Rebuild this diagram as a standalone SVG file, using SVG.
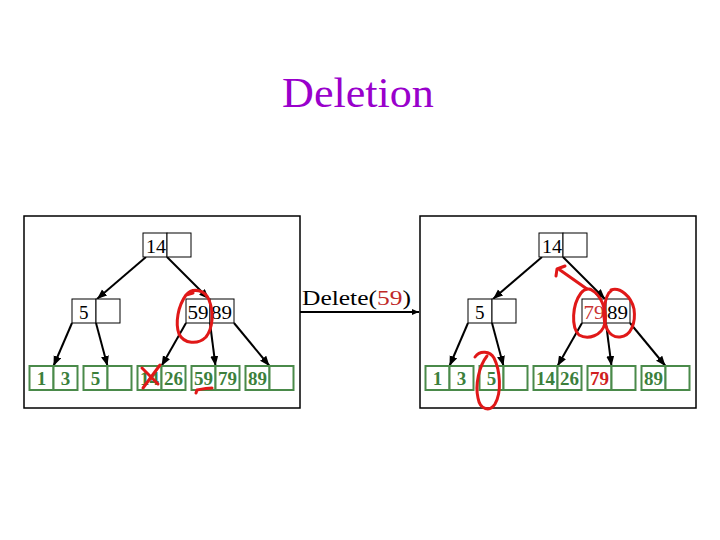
<svg xmlns="http://www.w3.org/2000/svg" width="720" height="540" viewBox="0 0 720 540">
<defs>
<marker id="ah" markerUnits="userSpaceOnUse" markerWidth="12" markerHeight="10" refX="10" refY="4" orient="auto">
<path d="M0,0 L10,4 L0,8 z" fill="#000"/>
</marker>
<marker id="ahs" markerUnits="userSpaceOnUse" markerWidth="8" markerHeight="8" refX="7" refY="3" orient="auto">
<path d="M0,0 L7,3 L0,6 z" fill="#000"/>
</marker>
<style>
.frame{fill:#fff;stroke:#000;stroke-width:1.5}
.nb{fill:#fff;stroke:#000;stroke-width:1}
.lb{fill:#fff;stroke:#4a8a4a;stroke-width:2}
.serif{font-family:'Liberation Serif','Times New Roman',serif}
.nt{font-family:'Liberation Serif','Times New Roman',serif;font-size:19px;fill:#000}
.lt{font-family:'Liberation Serif','Times New Roman',serif;font-size:19px;font-weight:bold;fill:#3c7f3c;text-anchor:middle}
.edge{stroke:#000;stroke-width:2;fill:none;marker-end:url(#ah)}
.red{stroke:#e01818;stroke-width:3;fill:none;stroke-linecap:round;stroke-linejoin:round}
</style>
</defs>
<rect width="720" height="540" fill="#fff"/>
<text class="serif" x="358" y="107" style="font-size:42px" fill="#9900cc" text-anchor="middle" transform="translate(358,0) scale(1.05,1) translate(-358,0)">Deletion</text>

<rect class="frame" x="24" y="216" width="276" height="192"/>
<rect class="frame" x="420" y="216" width="276" height="192"/>

<g id="connectors">
<path class="edge" d="M146,257 L97,299"/>
<path class="edge" d="M167,257 L209,299"/>
<path class="edge" d="M72,323 L53.5,366"/>
<path class="edge" d="M96,323 L107.5,366"/>
<path class="edge" d="M186,323 L161.5,366"/>
<path class="edge" d="M210,323 L215.5,366"/>
<path class="edge" d="M234,323 L269.5,366"/>
<path class="edge" d="M542,257 L493,299"/>
<path class="edge" d="M563,257 L605,299"/>
<path class="edge" d="M468,323 L449.5,366"/>
<path class="edge" d="M492,323 L503.5,366"/>
<path class="edge" d="M582,323 L557.5,366"/>
<path class="edge" d="M606,323 L611.5,366"/>
<path class="edge" d="M630,323 L665.5,366"/>
<path d="M300,312 L419,312" stroke="#000" stroke-width="2" fill="none" marker-end="url(#ahs)"/>
</g>

<text class="serif" x="302" y="305" font-size="21" fill="#000" textLength="109" lengthAdjust="spacingAndGlyphs">Delete(<tspan fill="#c02828">59</tspan>)</text>

<!-- Left tree -->
<g id="L-root"><rect class="nb" x="143" y="233" width="24" height="24"/><rect class="nb" x="167" y="233" width="24" height="24"/><text class="nt" x="146" y="253" textLength="20" lengthAdjust="spacingAndGlyphs">14</text></g>
<g id="L-n5"><rect class="nb" x="72" y="299" width="24" height="24"/><rect class="nb" x="96" y="299" width="24" height="24"/><text class="nt" x="79" y="319">5</text></g>
<g id="L-n59"><rect class="nb" x="186" y="299" width="24" height="24"/><rect class="nb" x="210" y="299" width="24" height="24"/><text class="nt" x="187.5" y="319" textLength="21" lengthAdjust="spacingAndGlyphs">59</text><text class="nt" x="211" y="319" textLength="21" lengthAdjust="spacingAndGlyphs">89</text></g>
<g id="L-leaf1"><rect class="lb" x="29.5" y="366" width="24" height="24"/><rect class="lb" x="53.5" y="366" width="24" height="24"/><text class="lt" x="41.5" y="384.5">1</text><text class="lt" x="65.5" y="384.5">3</text></g>
<g id="L-leaf2"><rect class="lb" x="83.5" y="366" width="24" height="24"/><rect class="lb" x="107.5" y="366" width="24" height="24"/><text class="lt" x="95.5" y="384.5">5</text></g>
<g id="L-leaf3"><rect class="lb" x="137.5" y="366" width="24" height="24"/><rect class="lb" x="161.5" y="366" width="24" height="24"/><text class="lt" x="149.5" y="384.5">14</text><text class="lt" x="173.5" y="384.5">26</text></g>
<g id="L-leaf4"><rect class="lb" x="191.5" y="366" width="24" height="24"/><rect class="lb" x="215.5" y="366" width="24" height="24"/><text class="lt" x="203.5" y="384.5">59</text><text class="lt" x="227.5" y="384.5">79</text></g>
<g id="L-leaf5"><rect class="lb" x="245.5" y="366" width="24" height="24"/><rect class="lb" x="269.5" y="366" width="24" height="24"/><text class="lt" x="257.5" y="384.5">89</text></g>

<!-- Right tree -->
<g id="R-root"><rect class="nb" x="539" y="233" width="24" height="24"/><rect class="nb" x="563" y="233" width="24" height="24"/><text class="nt" x="542" y="253" textLength="20" lengthAdjust="spacingAndGlyphs">14</text></g>
<g id="R-n5"><rect class="nb" x="468" y="299" width="24" height="24"/><rect class="nb" x="492" y="299" width="24" height="24"/><text class="nt" x="475" y="319">5</text></g>
<g id="R-n79"><rect class="nb" x="582" y="299" width="24" height="24"/><rect class="nb" x="606" y="299" width="24" height="24"/><text class="nt" x="583.5" y="319" style="fill:#c83232" textLength="21" lengthAdjust="spacingAndGlyphs">79</text><text class="nt" x="607" y="319" textLength="21" lengthAdjust="spacingAndGlyphs">89</text></g>
<g id="R-leaf1"><rect class="lb" x="425.5" y="366" width="24" height="24"/><rect class="lb" x="449.5" y="366" width="24" height="24"/><text class="lt" x="437.5" y="384.5">1</text><text class="lt" x="461.5" y="384.5">3</text></g>
<g id="R-leaf2"><rect class="lb" x="479.5" y="366" width="24" height="24"/><rect class="lb" x="503.5" y="366" width="24" height="24"/><text class="lt" x="491.5" y="384.5">5</text></g>
<g id="R-leaf3"><rect class="lb" x="533.5" y="366" width="24" height="24"/><rect class="lb" x="557.5" y="366" width="24" height="24"/><text class="lt" x="545.5" y="384.5">14</text><text class="lt" x="569.5" y="384.5">26</text></g>
<g id="R-leaf4"><rect class="lb" x="587.5" y="366" width="24" height="24"/><rect class="lb" x="611.5" y="366" width="24" height="24"/><text class="lt" x="599.5" y="384.5" style="fill:#d02020">79</text></g>
<g id="R-leaf5"><rect class="lb" x="641.5" y="366" width="24" height="24"/><rect class="lb" x="665.5" y="366" width="24" height="24"/><text class="lt" x="653.5" y="384.5">89</text></g>

<!-- red annotations -->
<g id="annotations">
<path class="red" d="M186,295 C193,287 205,290 209,300 C214,312 213,328 206,337 C198,345 184,344 179,334 C175,323 178,306 186,295 L193,293"/>
<path class="red" d="M142,368 L158,384 M160,365 L143,388"/>
<path class="red" stroke-width="4" d="M196,393 L197,390 C202,389 208,388 212,388"/>
<path class="red" d="M587,289 L560,270 M556,276 L557,269 L565,266"/>
<path class="red" d="M590,289 C601,294 607,310 605,323 C602,336 588,340 579,335 C571,327 572,305 581,293 C585,288 590,288 593,291"/>
<path class="red" d="M611,290 C620,287 631,296 634,309 C636,323 631,336 620,337 C609,338 603,326 604,310 C605,300 607,293 612,290"/>
<path class="red" d="M475,357 C480,350 490,351 494,358 C500,370 502,392 495,404 C490,412 480,410 478,398 C475,385 479,366 487,356"/>
</g>
</svg>
